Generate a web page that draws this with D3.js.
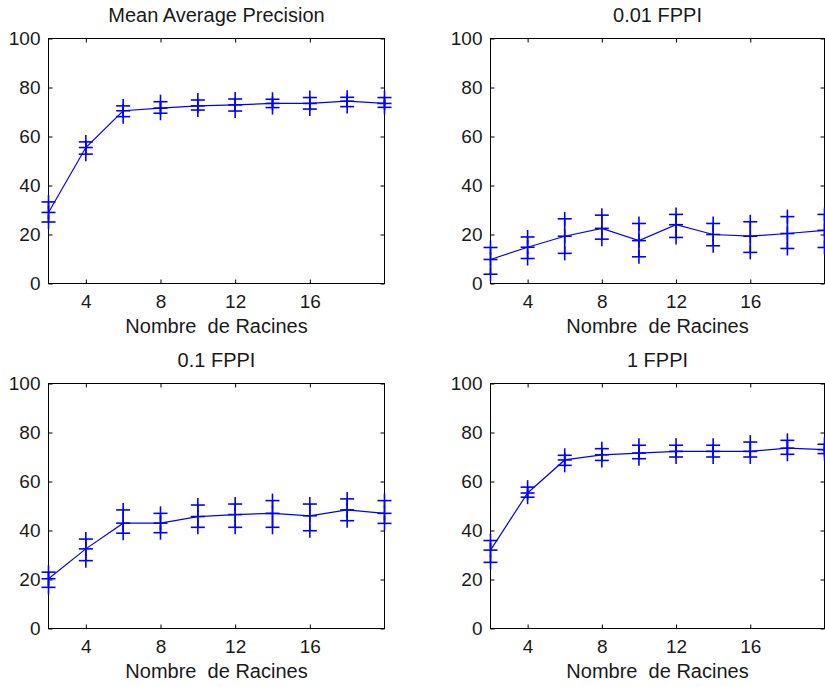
<!DOCTYPE html>
<html>
<head>
<meta charset="utf-8">
<script src="https://cdn.jsdelivr.net/npm/d3@7"></script>
<style>
  html, body { margin: 0; padding: 0; background: #fff; }
  svg { display: block; }
  text { font-family: "Liberation Sans", Arial, Helvetica, sans-serif; fill: #1a1a1a; }
</style>
</head>
<body>
<svg id="chart" width="825" height="687"></svg>
<script>
// ---- data ----
const racines = [2, 4, 6, 8, 10, 12, 14, 16, 18, 20];
const xTicks = [4, 8, 12, 16];
const yTicks = [0, 20, 40, 60, 80, 100];
const titles = ["Mean Average Precision", "0.01 FPPI", "0.1 FPPI", "1 FPPI"];
const xLabel = "Nombre  de Racines";

const mapMean = [29.0, 55.5, 70.5, 71.6, 72.5, 72.9, 73.5, 73.5, 74.4, 73.5];
const mapHi   = [33.3, 57.8, 72.5, 74.2, 74.9, 75.3, 75.2, 75.9, 76.0, 75.9];
const mapLo   = [25.1, 52.8, 68.1, 69.5, 70.8, 70.4, 71.8, 71.2, 72.2, 71.9];

const f001Mean = [9.8, 14.8, 19.3, 22.5, 17.5, 24.0, 20.0, 19.3, 20.4, 21.7];
const f001Hi   = [14.7, 19.0, 26.4, 27.9, 24.5, 28.2, 24.5, 25.2, 27.3, 28.2];
const f001Lo   = [3.8, 10.2, 12.3, 18.1, 10.9, 18.8, 15.4, 12.7, 14.3, 14.7];

const f01Mean = [20.3, 32.5, 43.0, 43.0, 45.7, 46.5, 47.0, 46.0, 48.4, 47.0];
const f01Hi   = [23.0, 36.5, 48.4, 47.0, 50.4, 50.8, 52.2, 50.8, 52.9, 52.2];
const f01Lo   = [16.8, 27.7, 38.9, 39.1, 41.3, 41.3, 41.3, 39.9, 44.0, 42.9];

const f1Mean = [32.0, 55.3, 68.8, 70.9, 71.6, 72.3, 72.3, 72.3, 73.6, 73.0];
const f1Hi   = [35.9, 57.7, 70.7, 73.4, 74.8, 74.8, 74.8, 76.1, 76.8, 75.2];
const f1Lo   = [27.0, 53.6, 66.6, 68.6, 69.3, 70.0, 70.0, 70.0, 71.1, 71.4];

// ---- layout ----
const frames = [
  {x0: 48.5, x1: 384.5, y0: 38.5, y1: 283.5},
  {x0: 490.5, x1: 824.5, y0: 38.5, y1: 283.5},
  {x0: 48.5, x1: 384.5, y0: 383.5, y1: 628.5},
  {x0: 490.5, x1: 824.5, y0: 383.5, y1: 628.5}
];
const series = [
  {mean: mapMean, hi: mapHi, lo: mapLo},
  {mean: f001Mean, hi: f001Hi, lo: f001Lo},
  {mean: f01Mean, hi: f01Hi, lo: f01Lo},
  {mean: f1Mean, hi: f1Hi, lo: f1Lo}
];
const blue = "#0000ff";
const mk = 7; // half size of '+' markers

const svg = d3.select("#chart");

frames.forEach((fr, i) => {
  const s = series[i];
  const x = d3.scaleLinear().domain([2, 20]).range([fr.x0, fr.x1]);
  const y = d3.scaleLinear().domain([0, 100]).range([fr.y1, fr.y0]);
  const g = svg.append("g");

  // box
  g.append("rect")
    .attr("x", fr.x0).attr("y", fr.y0)
    .attr("width", fr.x1 - fr.x0).attr("height", fr.y1 - fr.y0)
    .attr("fill", "none").attr("stroke", "#000").attr("stroke-width", 1);

  // axes (inward ticks)
  const left = g.append("g").attr("transform", `translate(${fr.x0},0)`)
    .call(d3.axisLeft(y).tickValues(yTicks).tickSizeInner(-4).tickSizeOuter(0).tickPadding(8));
  const bottom = g.append("g").attr("transform", `translate(0,${fr.y1})`)
    .call(d3.axisBottom(x).tickValues(xTicks).tickSizeInner(-4).tickSizeOuter(0).tickPadding(11));
  const right = g.append("g").attr("transform", `translate(${fr.x1},0)`)
    .call(d3.axisRight(y).tickValues(yTicks).tickSizeInner(-4).tickSizeOuter(0).tickFormat(""));
  const top = g.append("g").attr("transform", `translate(0,${fr.y0})`)
    .call(d3.axisTop(x).tickValues(xTicks).tickSizeInner(-4).tickSizeOuter(0).tickFormat(""));
  [left, bottom, right, top].forEach(a => {
    a.select(".domain").remove();
    a.selectAll("line").attr("stroke", "#000");
    a.selectAll("text").attr("font-size", 19).attr("fill", "#1a1a1a")
      .style("font-family", '"Liberation Sans", Arial, sans-serif');
  });

  // title
  g.append("text")
    .attr("x", (fr.x0 + fr.x1) / 2).attr("y", fr.y0 - 17)
    .attr("text-anchor", "middle").attr("font-size", 20)
    .text(titles[i]);
  // x label
  g.append("text")
    .attr("x", (fr.x0 + fr.x1) / 2).attr("y", fr.y1 + 49)
    .attr("text-anchor", "middle").attr("font-size", 20)
    .attr("xml:space", "preserve").style("white-space", "pre")
    .text(xLabel);

  // mean line
  const line = d3.line().x((d, j) => x(racines[j])).y(d => y(d));
  g.append("path").datum(s.mean)
    .attr("d", line).attr("fill", "none").attr("stroke", blue).attr("stroke-width", 1.2);

  // error bars
  const eb = g.append("g").attr("stroke", blue).attr("stroke-width", 1.6).attr("fill", "none");
  racines.forEach((r, j) => {
    const cx = x(r);
    eb.append("line").attr("x1", cx).attr("x2", cx)
      .attr("y1", y(s.hi[j])).attr("y2", y(s.lo[j]));
    [s.hi[j], s.mean[j], s.lo[j]].forEach(v => {
      const cy = y(v);
      eb.append("line").attr("x1", cx - mk).attr("x2", cx + mk).attr("y1", cy).attr("y2", cy);
      eb.append("line").attr("x1", cx).attr("x2", cx).attr("y1", cy - mk).attr("y2", cy + mk);
    });
  });
});
</script>
</body>
</html>
